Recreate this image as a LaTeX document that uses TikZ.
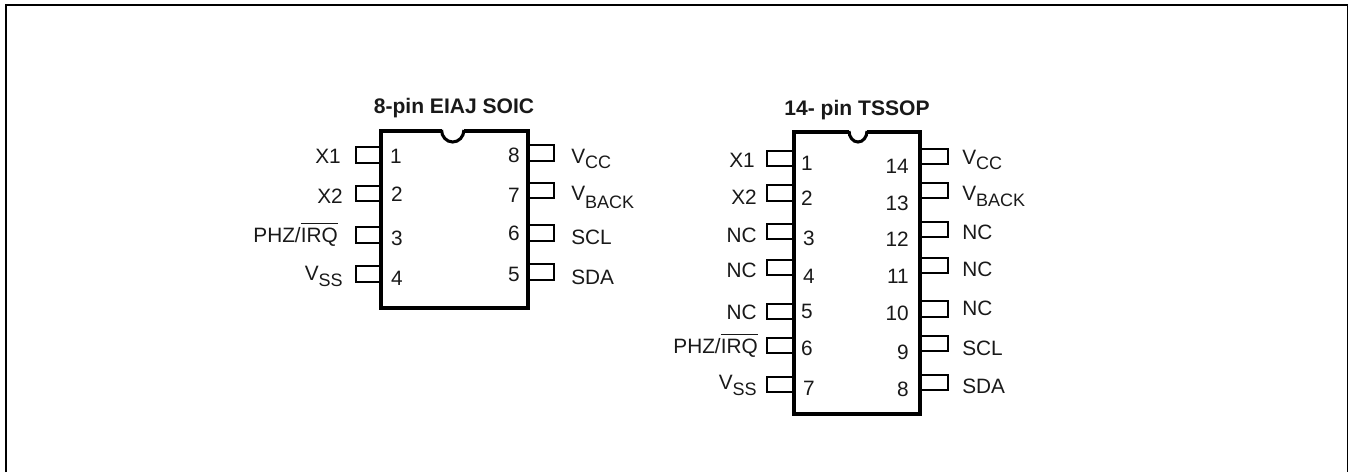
\documentclass[tikz,border=0pt]{standalone}
\usepackage{fontspec}
\setmainfont{Liberation Sans}
\newcommand{\txt}{\fontsize{15.6pt}{17pt}\selectfont}
\newcommand{\drop}[2]{V\raisebox{-#1pt}{\fontsize{13.5pt}{15pt}\selectfont #2}}
\newlength{\irqw}
\newcommand{\irq}{\settowidth{\irqw}{IRQ}PHZ/\rlap{\rule[13.7pt]{\irqw}{1pt}}IRQ}
\tikzset{
  lab/.style={font=\txt,inner sep=0pt,text=black!90,yshift=-0.9pt},
  le/.style={lab,anchor=base east},
  lw/.style={lab,anchor=base west},
  lc/.style={lab,anchor=base},
  ttl/.style={lab,anchor=base,yshift=0.9pt,font=\fontsize{15.8pt}{18pt}\selectfont\bfseries},
  chip/.style={draw=black,line width=2.3pt,line join=miter,line cap=butt},
  pin/.style={draw=black,line width=1.5pt,line join=miter},
}
\begin{document}
\begin{tikzpicture}[x=0.75pt,y=-0.75pt]
\useasboundingbox (0,0) rectangle (1348,472);
% frame
\coordinate (fa) at (6,472); \coordinate (fb) at (6,5); \coordinate (fc) at (1348,5); \coordinate (fd) at (1348,472);
\draw[line width=1.6pt,line join=miter] (fa) -- (fb) -- (fc) -- (fd);
% chip 1
\draw[chip] (441.5,131) -- (381,131) -- (381,308) -- (528,308) -- (528,131) -- (464,131);
\draw[chip] (441.5,130) arc[start angle=180,end angle=360,x radius=11.2,y radius=-12];
\foreach \a/\b in {147/163,186/201,227/243,266/282}
  \draw[pin] (381,\a) -- (356,\a) -- (356,\b) -- (381,\b);
\foreach \a/\b in {145/161,183/198,225/241,264/280}
  \draw[pin] (528,\a) -- (554,\a) -- (554,\b) -- (528,\b);
\node[ttl] (t1) at (454,113) {8-pin EIAJ SOIC};
\node[le] (a1) at (341,162) {X1};
\node[le] (a2) at (343,202) {X2};
\node[le] (a3) at (338,241) {\irq};
\node[le] (a4) at (343,279) {\drop{4.5}{SS}};
\node[lc] (n1) at (396,162) {1};
\node[lc] (n2) at (397,200) {2};
\node[lc] (n3) at (397,244) {3};
\node[lc] (n4) at (397,284) {4};
\node[lc] (n8) at (514,161) {8};
\node[lc] (n7) at (514,201) {7};
\node[lc] (n6) at (514,239) {6};
\node[lc] (n5) at (514,280) {5};
\node[lw] (b8) at (571,162) {\drop{3.8}{CC}};
\node[lw] (b7) at (571,199) {\drop{6.5}{BACK}};
\node[lw] (b6) at (571,243) {SCL};
\node[lw] (b5) at (571,283) {SDA};
% chip 2
\draw[chip] (849,132) -- (794,132) -- (794,414) -- (920,414) -- (920,132) -- (867,132);
\draw[chip] (849,131) arc[start angle=180,end angle=360,x radius=9,y radius=-11];
\foreach \a/\b in {151/166,185/201,224/239,260/275,304/319,338/353,377/392}
  \draw[pin] (794,\a) -- (767,\a) -- (767,\b) -- (794,\b);
\foreach \a/\b in {149/164,183/198,222/237,258/273,301/317,336/351,375/390}
  \draw[pin] (920,\a) -- (948,\a) -- (948,\b) -- (920,\b);
\node[ttl] (t2) at (857,115) {14- pin TSSOP};
\node[le] (c1) at (755,166) {X1};
\node[le] (c2) at (757,203) {X2};
\node[le] (c3) at (757,241) {NC};
\node[le] (c4) at (757,276) {NC};
\node[le] (c5) at (757,318) {NC};
\node[le] (c6) at (758,352) {\irq};
\node[le] (c7) at (757,388) {\drop{4.5}{SS}};
\node[lc] (m1) at (807,169) {1};
\node[lc] (m2) at (807,204) {2};
\node[lc] (m3) at (809,244) {3};
\node[lc] (m4) at (809,282) {4};
\node[lc] (m5) at (807,317) {5};
\node[lc] (m6) at (807,354) {6};
\node[lc] (m7) at (809,394) {7};
\node[le] (m14) at (909,172) {14};
\node[le] (m13) at (909,209) {13};
\node[le] (m12) at (909,245) {12};
\node[le] (m11) at (909,282) {11};
\node[le] (m10) at (909,319) {10};
\node[le] (m9) at (909,358) {9};
\node[le] (m8) at (909,395) {8};
\node[lw] (d14) at (962,163) {\drop{3.8}{CC}};
\node[lw] (d13) at (962,199) {\drop{4.5}{BACK}};
\node[lw] (d12) at (962,238) {NC};
\node[lw] (d11) at (962,275) {NC};
\node[lw] (d10) at (962,314) {NC};
\node[lw] (d9) at (962,354) {SCL};
\node[lw] (d8) at (962,392) {SDA};
\end{tikzpicture}
\end{document}
